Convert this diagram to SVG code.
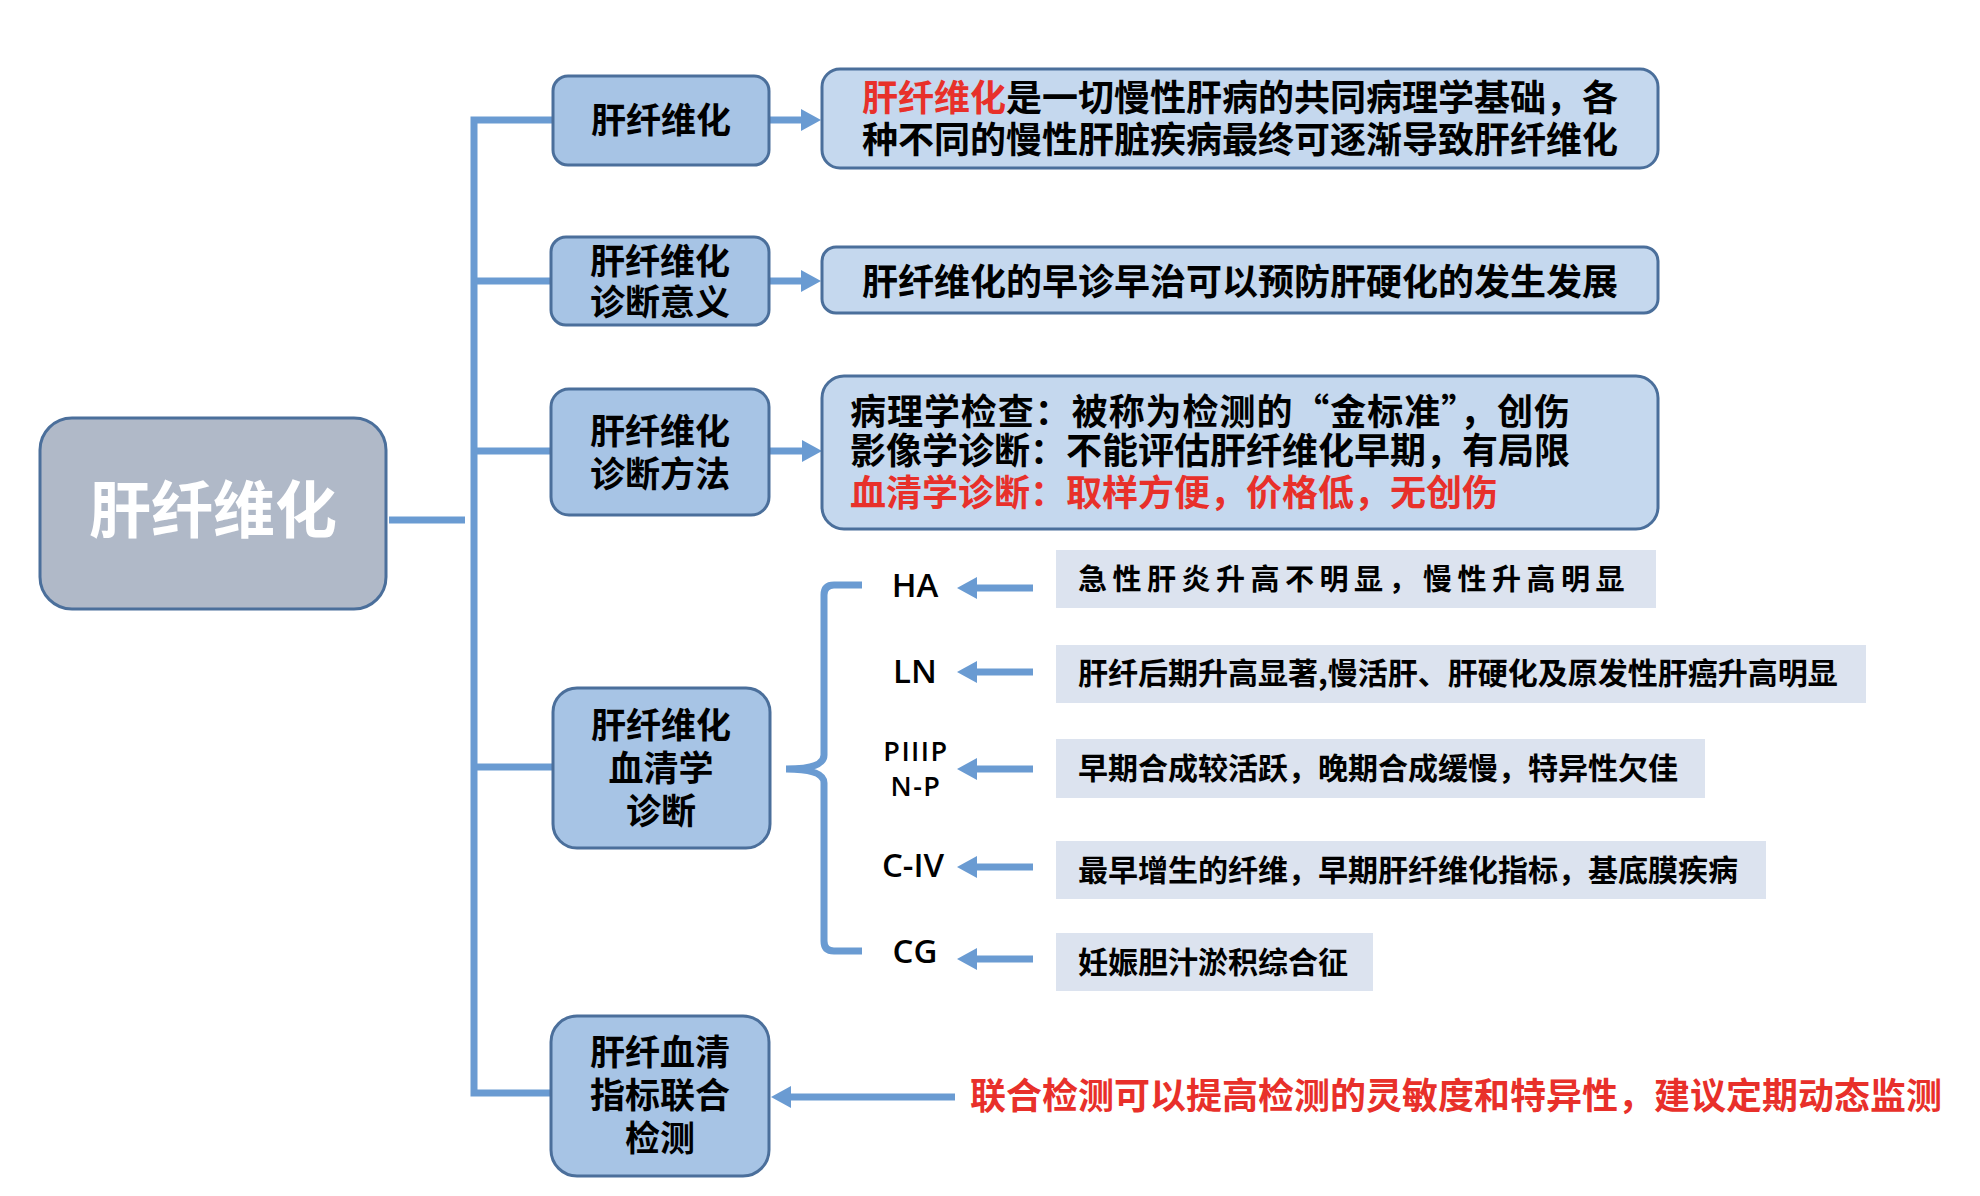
<svg xmlns="http://www.w3.org/2000/svg" width="1980" height="1196" viewBox="0 0 1980 1196">
<defs>
<style>
.cn{font-family:"Noto Sans CJK SC","Noto Sans",sans-serif;font-weight:bold;fill:#000}
.red{fill:#e8302a}
.lat{font-family:"Open Sans","Liberation Sans",sans-serif;font-weight:600;fill:#000;text-anchor:middle}
.box{fill:#a7c4e5;stroke:#4b6f9b;stroke-width:3}
.desc{fill:#c5d8ee;stroke:#4b6f9b;stroke-width:3}
.gray{fill:#dce3ef}
.ln{stroke:#6a9bd2;stroke-width:7;fill:none}
.mid{text-anchor:middle}
</style>
<marker id="ah" markerUnits="userSpaceOnUse" markerWidth="20" markerHeight="22" refX="0" refY="11" orient="auto">
<path d="M0,0 L20,11 L0,22 Z" fill="#6a9bd2"/>
</marker>
</defs>
<rect width="1980" height="1196" fill="#fff"/>

<g id="connectors">
<line class="ln" x1="389" y1="520" x2="465" y2="520"/>
<path class="ln" d="M553,120 H474 V1093 H553"/>
<line class="ln" x1="474" y1="281" x2="551" y2="281"/>
<line class="ln" x1="474" y1="451" x2="551" y2="451"/>
<line class="ln" x1="474" y1="767" x2="553" y2="767"/>
<line class="ln" x1="770" y1="120" x2="801" y2="120" marker-end="url(#ah)"/>
<line class="ln" x1="770" y1="281" x2="801" y2="281" marker-end="url(#ah)"/>
<line class="ln" x1="770" y1="451" x2="802" y2="451" marker-end="url(#ah)"/>
<path class="ln" d="M862,585 H834 Q824,585 824,595 V755 Q824,769 786,769 Q824,769 824,783 V941 Q824,951 834,951 H862"/>
<line class="ln" x1="1033" y1="588" x2="977" y2="588" marker-end="url(#ah)"/>
<line class="ln" x1="1033" y1="672" x2="977" y2="672" marker-end="url(#ah)"/>
<line class="ln" x1="1033" y1="769" x2="977" y2="769" marker-end="url(#ah)"/>
<line class="ln" x1="1033" y1="867" x2="977" y2="867" marker-end="url(#ah)"/>
<line class="ln" x1="1033" y1="959" x2="977" y2="959" marker-end="url(#ah)"/>
<line class="ln" x1="955" y1="1097" x2="791" y2="1097" marker-end="url(#ah)"/>
</g>

<g id="root">
<rect x="40" y="418" width="346" height="191" rx="32" fill="#b0b9c8" stroke="#4b6f9b" stroke-width="3"/>
<text x="213" y="533" font-size="62" class="cn mid" style="fill:#fff">肝纤维化</text>
</g>

<g id="n1">
<rect class="box" x="553" y="76" width="216" height="89" rx="15"/>
<text x="661" y="133" font-size="35" class="cn mid">肝纤维化</text>
</g>
<g id="n2">
<rect class="box" x="551" y="237" width="218" height="88" rx="15"/>
<text x="660" y="274" font-size="35" class="cn mid">肝纤维化</text>
<text x="660" y="315" font-size="35" class="cn mid">诊断意义</text>
</g>
<g id="n3">
<rect class="box" x="551" y="389" width="218" height="126" rx="18"/>
<text x="660" y="444" font-size="35" class="cn mid">肝纤维化</text>
<text x="660" y="487" font-size="35" class="cn mid">诊断方法</text>
</g>
<g id="n4">
<rect class="box" x="553" y="688" width="217" height="160" rx="24"/>
<text x="661" y="738" font-size="35" class="cn mid">肝纤维化</text>
<text x="661" y="781" font-size="35" class="cn mid">血清学</text>
<text x="661" y="824" font-size="35" class="cn mid">诊断</text>
</g>
<g id="n5">
<rect class="box" x="551" y="1016" width="218" height="160" rx="26"/>
<text x="660" y="1065" font-size="35" class="cn mid">肝纤血清</text>
<text x="660" y="1108" font-size="35" class="cn mid">指标联合</text>
<text x="660" y="1151" font-size="35" class="cn mid">检测</text>
</g>

<g id="d1">
<rect class="desc" x="822" y="69" width="836" height="99" rx="18"/>
<text x="862" y="111" font-size="36" class="cn"><tspan class="red">肝纤维化</tspan>是一切慢性肝病的共同病理学基础，各</text>
<text x="862" y="153" font-size="36" class="cn">种不同的慢性肝脏疾病最终可逐渐导致肝纤维化</text>
</g>
<g id="d2">
<rect class="desc" x="822" y="247" width="836" height="66" rx="14"/>
<text x="862" y="295" font-size="36" class="cn">肝纤维化的早诊早治可以预防肝硬化的发生发展</text>
</g>
<g id="d3">
<rect class="desc" x="822" y="376" width="836" height="153" rx="22"/>
<text x="850" y="425" font-size="36" class="cn" textLength="720" lengthAdjust="spacing">病理学检查：被称为检测的“金标准”，创伤</text>
<text x="850" y="464" font-size="36" class="cn">影像学诊断：不能评估肝纤维化早期，有局限</text>
<text x="850" y="506" font-size="36" class="cn red">血清学诊断：取样方便，价格低，无创伤</text>
</g>

<g id="m1">
<text x="915" y="597" font-size="33" class="lat">HA</text>
</g>
<g id="m2">
<text x="915" y="683" font-size="33" class="lat">LN</text>
</g>
<g id="m3">
<text x="916" y="761" font-size="27" class="lat" letter-spacing="1.5">PIIIP</text>
<text x="916" y="796" font-size="27" class="lat" letter-spacing="1.5">N-P</text>
</g>
<g id="m4">
<text x="913" y="877" font-size="33" class="lat">C-IV</text>
</g>
<g id="m5">
<text x="915" y="963" font-size="33" class="lat">CG</text>
</g>

<g id="g1">
<rect class="gray" x="1056" y="550" width="600" height="58"/>
<text x="1078" y="590" font-size="29" class="cn" letter-spacing="5.5">急性肝炎升高不明显，慢性升高明显</text>
</g>
<g id="g2">
<rect class="gray" x="1056" y="645" width="810" height="58"/>
<text x="1078" y="684" font-size="30" class="cn">肝纤后期升高显著,慢活肝、肝硬化及原发性肝癌升高明显</text>
</g>
<g id="g3">
<rect class="gray" x="1056" y="739" width="649" height="59"/>
<text x="1078" y="779" font-size="30" class="cn">早期合成较活跃，晚期合成缓慢，特异性欠佳</text>
</g>
<g id="g4">
<rect class="gray" x="1056" y="841" width="710" height="58"/>
<text x="1078" y="881" font-size="30" class="cn">最早增生的纤维，早期肝纤维化指标，基底膜疾病</text>
</g>
<g id="g5">
<rect class="gray" x="1056" y="933" width="317" height="58"/>
<text x="1078" y="973" font-size="30" class="cn">妊娠胆汁淤积综合征</text>
</g>

<g id="note">
<text x="970" y="1109" font-size="36" class="cn red">联合检测可以提高检测的灵敏度和特异性，建议定期动态监测</text>
</g>
</svg>
